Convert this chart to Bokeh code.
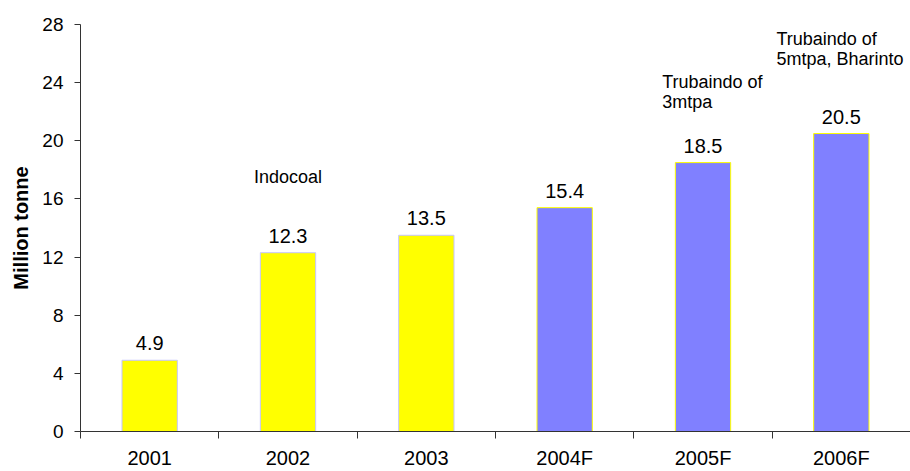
from bokeh.plotting import figure
from bokeh.models import Range1d, FixedTicker, ColumnDataSource, Label
from bokeh.core.properties import value
from bokeh.embed import file_html
from bokeh.resources import INLINE

# ---- data ----
categories = ["2001", "2002", "2003", "2004F", "2005F", "2006F"]
production = [4.9, 12.3, 13.5, 15.4, 18.5, 20.5]
is_forecast = [False, False, False, True, True, True]
y_ticks = [0, 4, 8, 12, 16, 20, 24, 28]

ann_lines = ["Indocoal", "Trubaindo of", "3mtpa", "Trubaindo of", "5mtpa, Bharinto"]
ann_x = [1.5, 4.205, 4.205, 5.031, 5.031]
ann_y = [17.18, 23.69, 22.32, 26.68, 25.26]
ann_align = ["center", "left", "left", "left", "left"]

FONT = "Liberation Sans"

centers = [i + 0.5 for i in range(len(categories))]
fills = ["#8080FF" if f else "#FFFF00" for f in is_forecast]
outlines = ["#FFFF00" if f else "#C4C4FF" for f in is_forecast]
labels = [f"{v:.1f}" for v in production]

src = ColumnDataSource(dict(x=centers, top=production, fill=fills, line=outlines, lab=labels))

p = figure(width=910, height=471, output_backend="svg", toolbar_location=None,
           x_range=Range1d(0, len(categories)), y_range=Range1d(0, 28),
           min_border_left=80, min_border_right=0, min_border_top=24, min_border_bottom=38)
p.outline_line_color = None
p.background_fill_color = "white"
p.border_fill_color = "white"

p.vbar(x="x", top="top", width=0.4, bottom=0, source=src,
       fill_color="fill", line_color="line", line_width=1)

p.text(x="x", y="top", text="lab", source=src, y_offset=-17,
       text_align="center", text_baseline="alphabetic",
       text_font=value(FONT), text_font_size="20px", text_color="black")

for t, x, y, a in zip(ann_lines, ann_x, ann_y, ann_align):
    p.add_layout(Label(x=x, y=y, text=t, text_align=a, text_baseline="alphabetic",
                       y_offset=5,
                       text_font=FONT, text_font_size="18px", text_color="black"))

# grid: only top line at 28
p.xgrid.visible = False
p.ygrid.ticker = FixedTicker(ticks=[28])
p.ygrid.grid_line_color = "#888888"
p.ygrid.grid_line_width = 1

# x axis
xa = p.xaxis[0]
xa.ticker = FixedTicker(ticks=centers, minor_ticks=list(range(len(categories) + 1)))
xa.major_label_overrides = {c: cat for c, cat in zip(centers, categories)}
xa.major_tick_line_color = None
xa.major_tick_out = 7
xa.major_tick_in = 0
xa.minor_tick_line_color = "#333333"
xa.minor_tick_out = 7
xa.minor_tick_in = 0
xa.major_label_standoff = 8
xa.axis_line_color = "#333333"
xa.major_label_text_font = FONT
xa.major_label_text_font_size = "20px"
xa.major_label_text_color = "black"

# y axis
ya = p.yaxis[0]
ya.ticker = FixedTicker(ticks=y_ticks, minor_ticks=[])
ya.major_tick_out = 6
ya.major_tick_in = 0
ya.major_tick_line_color = "#333333"
ya.axis_line_color = "#333333"
ya.major_label_standoff = 11
ya.major_label_text_font = FONT
ya.major_label_text_font_size = "19px"
ya.major_label_text_color = "black"
ya.axis_label = "Million tonne"
ya.axis_label_text_font = FONT
ya.axis_label_text_font_size = "20px"
ya.axis_label_text_font_style = "bold"
ya.axis_label_text_color = "black"
ya.axis_label_standoff = 7

open("out.html", "w").write(file_html(p, INLINE))
